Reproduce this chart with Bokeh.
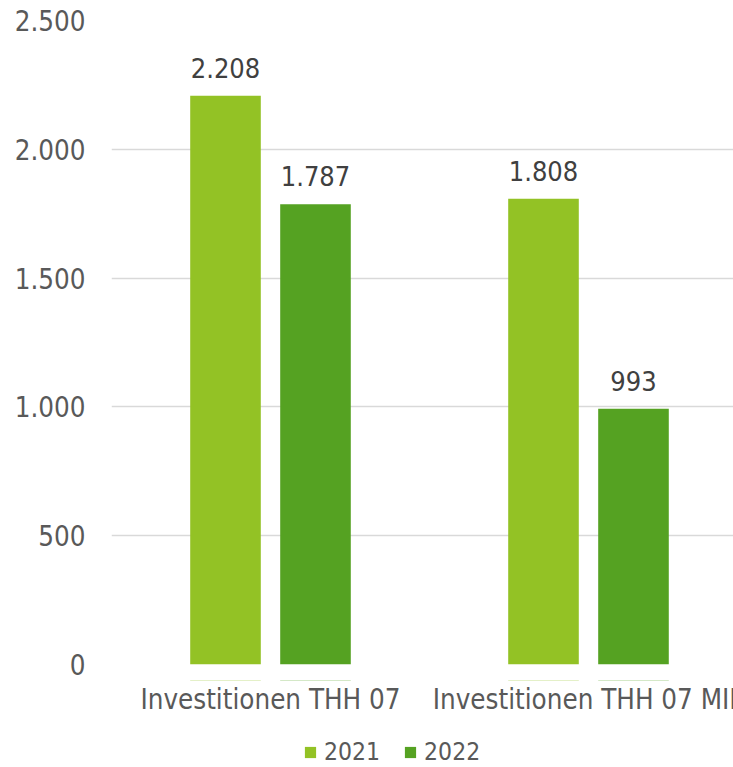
from bokeh.plotting import figure
from bokeh.layouts import column
from bokeh.models import ColumnDataSource, Range1d, FixedTicker, Legend, LegendItem
from bokeh.core.properties import value
from bokeh.embed import file_html
from bokeh.resources import INLINE

categories = ["Investitionen THH 07", "Investitionen THH 07 MIP"]
years = ["2021", "2022"]
values_2021 = [2208, 1808]
values_2022 = [1787, 993]
y_ticks = [0, 500, 1000, 1500, 2000, 2500]
y_tick_labels = ["0", "500", "1.000", "1.500", "2.000", "2.500"]

colors = {"2021": "#93C225", "2022": "#55A222"}
FONT = "DejaVu Sans Condensed"
TXT = "#595959"
X_END = 1.956  # the chart is cut off at the right edge, as in the reference

def fmt(v):
    return f"{v:,}".replace(",", ".")

# main plot (bars + value axis)
p = figure(width=733, height=680, output_backend="svg", toolbar_location=None,
           x_range=Range1d(0, X_END), y_range=Range1d(0, 2500), x_axis_location=None,
           min_border_left=111, min_border_right=0, min_border_top=20, min_border_bottom=16)
p.outline_line_color = None
p.background_fill_color = None
p.border_fill_color = None

sources = {}
for yr, vals, off in [("2021", values_2021, -0.1415), ("2022", values_2022, 0.1415)]:
    xs = [i + 0.5 + off for i in range(len(categories))]
    src = ColumnDataSource(dict(x=xs, top=vals, lab=[fmt(v) for v in vals]))
    sources[yr] = src
    p.vbar(x="x", top="top", width=0.222, source=src, fill_color=colors[yr], line_color=None)
    p.text(x="x", y="top", text="lab", source=src, text_align="center", text_baseline="bottom",
           y_offset=-18, text_font=value(FONT), text_font_size="27px", text_color="#404040")

p.yaxis.ticker = FixedTicker(ticks=y_ticks)
p.yaxis.major_label_overrides = {t: l for t, l in zip(y_ticks, y_tick_labels)}
p.yaxis.axis_line_color = None
p.yaxis.major_tick_line_color = None
p.yaxis.minor_tick_line_color = None
p.yaxis.major_label_standoff = 20
p.yaxis.major_label_text_font = FONT
p.yaxis.major_label_text_font_size = "27.5px"
p.yaxis.major_label_text_color = TXT

p.xgrid.grid_line_color = None
p.ygrid.ticker = FixedTicker(ticks=y_ticks)
p.ygrid.grid_line_color = "#D9D9D9"
p.ygrid.grid_line_width = 1.5

# bottom strip: category labels (clipped at the right edge) + legend
lg = figure(width=733, height=87, output_backend="svg", toolbar_location=None,
            x_range=p.x_range, y_range=Range1d(-200, -100),
            x_axis_location=None, y_axis_location=None,
            min_border_left=111, min_border_right=0, min_border_top=0, min_border_bottom=0)
lg.outline_line_color = None
lg.grid.visible = False
lg.background_fill_color = None
lg.border_fill_color = None

cat_src = ColumnDataSource(dict(x=[i + 0.5 for i in range(len(categories))],
                                y=[lg.y_range.end] * len(categories), text=categories))
lg.text(x="x", y="y", text="text", source=cat_src, text_align="center", text_baseline="top",
        y_offset=2, text_font=value(FONT), text_font_size="27.5px", text_color=TXT)

items = []
for yr in years:
    # legend-only renderers: zero-height bars at the data values, far outside the strip's range
    r = lg.vbar(x="x", top="top", bottom="top", width=0.222, source=sources[yr],
                fill_color=colors[yr], line_color=None)
    items.append(LegendItem(label=yr, renderers=[r]))
legend = Legend(items=items, orientation="horizontal", location=(192, 1), margin=0, padding=0,
                spacing=23, glyph_width=14, glyph_height=14, label_standoff=7,
                label_text_font=FONT, label_text_font_size="24.5px", label_text_color=TXT,
                border_line_color=None, background_fill_alpha=0)
lg.add_layout(legend, "center")

layout = column(p, lg, spacing=0)
open("out.html", "w").write(file_html(layout, INLINE))
